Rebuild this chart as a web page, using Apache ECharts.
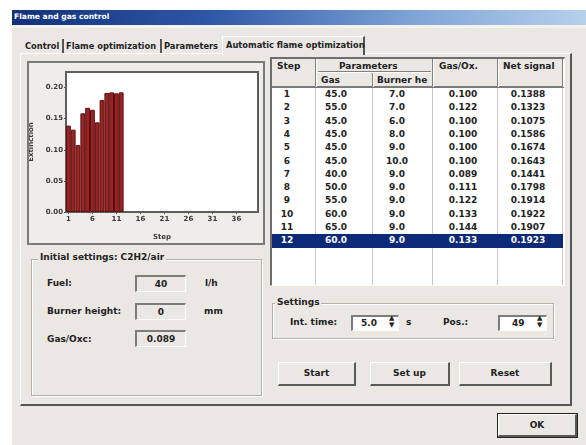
<!DOCTYPE html>
<html><head><meta charset="utf-8">
<script src="https://cdn.jsdelivr.net/npm/echarts@6/dist/echarts.min.js"></script>
<style>
body{margin:0;background:#fff;}
#root{position:relative;width:586px;height:445px;overflow:hidden;font-family:"DejaVu Sans",sans-serif;font-weight:bold;font-size:9px;color:#222;}
#root div{position:absolute;box-sizing:border-box;}
.lbl{white-space:nowrap;line-height:12px;}
.tab{font-size:8.3px;}
.sunk{border-top:2px solid #7c7c7c;border-left:2px solid #7c7c7c;border-bottom:1px solid #fdfdfd;border-right:1px solid #fdfdfd;}
.raised{border-top:1px solid #fff;border-left:1px solid #fff;border-bottom:2px solid #5a5a5a;border-right:2px solid #5a5a5a;text-align:center;}
.group{border:1px solid #b2aea8;box-shadow:inset 1px 1px 0 #fff,1px 1px 0 #fff;}
.cell{text-align:center;line-height:13px;height:13px;white-space:nowrap;overflow:hidden;}
</style></head><body>
<div id="root">
  <div id="dlg" style="left:12px;top:10px;width:574px;height:435px;background:#ebe8e4;"></div>
  <div style="left:12px;top:10px;width:574px;height:15px;background:linear-gradient(to right,#13317a 0%,#2f58a8 35%,#7fa4d6 70%,#b7d0ec 100%);"></div>
  <div class="lbl" style="left:14px;top:11px;color:#fff;font-size:7.6px;">Flame and gas control</div>
  <div style="left:12px;top:25px;width:574px;height:3px;background:#f4f2ec;"></div>

  <!-- tab strip -->
  <div style="left:20px;top:53px;width:552px;height:353px;border-top:1px solid #fff;border-left:1px solid #fff;border-right:2px solid #555;border-bottom:2px solid #555;"></div>
  <div class="lbl tab" style="left:25px;top:40px;">Control</div>
  <div style="left:62px;top:39px;width:2px;height:14px;background:#555;"></div>
  <div class="lbl tab" style="left:66px;top:40px;">Flame optimization</div>
  <div style="left:160px;top:39px;width:2px;height:14px;background:#555;"></div>
  <div class="lbl tab" style="left:164px;top:40px;">Parameters</div>
  <div style="left:222px;top:36px;width:143px;height:19px;background:#ebe8e4;border-top:1px solid #fff;border-left:1px solid #fff;border-right:2px solid #555;"></div>
  <div class="lbl tab" style="left:226px;top:39px;">Automatic flame optimization</div>

  <!-- chart box -->
  <div style="left:27px;top:61px;width:238px;height:184px;border:2px solid #7a7a7a;background:#efedea;"></div>
  <div id="chart" style="left:29px;top:63px;width:234px;height:180px;"></div>

  <!-- initial settings group -->
  <div class="group" style="left:31px;top:259px;width:231px;height:137px;"></div>
  <div class="lbl" style="left:38px;top:251px;background:#ebe8e4;padding:0 2px;">Initial settings: C2H2/air</div>
  <div class="lbl" style="left:47px;top:277px;">Fuel:</div>
  <div class="sunk" style="left:135px;top:275px;width:51px;height:17px;text-align:center;line-height:14px;">40</div>
  <div class="lbl" style="left:205px;top:277px;">l/h</div>
  <div class="lbl" style="left:47px;top:305px;">Burner height:</div>
  <div class="sunk" style="left:135px;top:303px;width:51px;height:17px;text-align:center;line-height:14px;">0</div>
  <div class="lbl" style="left:204px;top:305px;">mm</div>
  <div class="lbl" style="left:47px;top:333px;">Gas/Oxc:</div>
  <div class="sunk" style="left:135px;top:330px;width:51px;height:17px;text-align:center;line-height:14px;">0.089</div>

  <!-- table -->
  <div id="table" style="left:270px;top:57px;width:295px;height:229px;background:#fff;border-top:2px solid #6e6e6e;border-left:2px solid #6e6e6e;border-bottom:1px solid #fff;border-right:1px solid #fff;"></div>

  <!-- settings group -->
  <div class="group" style="left:272px;top:303px;width:282px;height:36px;"></div>
  <div class="lbl" style="left:275px;top:296px;background:#ebe8e4;padding:0 2px;">Settings</div>
  <div class="lbl" style="left:290px;top:316px;">Int. time:</div>
  <div class="sunk" style="left:351px;top:315px;width:48px;height:16px;background:#fff;line-height:13px;padding-left:8px;">5.0</div>
  <div class="lbl" style="left:389px;top:315px;font-size:7px;line-height:7px;">▲<br>▼</div>
  <div class="lbl" style="left:406px;top:316px;">s</div>
  <div class="lbl" style="left:443px;top:316px;">Pos.:</div>
  <div class="sunk" style="left:498px;top:315px;width:49px;height:16px;background:#fff;line-height:13px;padding-left:12px;">49</div>
  <div class="lbl" style="left:537px;top:315px;font-size:7px;line-height:7px;">▲<br>▼</div>

  <!-- buttons -->
  <div class="raised" style="left:278px;top:362px;width:78px;height:24px;line-height:21px;">Start</div>
  <div class="raised" style="left:370px;top:362px;width:80px;height:24px;line-height:21px;">Set up</div>
  <div class="raised" style="left:459px;top:362px;width:93px;height:24px;line-height:21px;">Reset</div>
  <div style="left:497px;top:413px;width:81px;height:25px;border:1px solid #222;"></div>
  <div class="raised" style="left:498px;top:414px;width:79px;height:23px;line-height:20px;">OK</div>
</div>
<script>
// ---- data ----
const steps = ['1','2','3','4','5','6','7','8','9','10','11','12'];
const gasFlow = ['45.0','55.0','45.0','45.0','45.0','45.0','40.0','50.0','55.0','60.0','65.0','60.0'];
const burnerHeight = ['7.0','7.0','6.0','8.0','9.0','10.0','9.0','9.0','9.0','9.0','9.0','9.0'];
const gasOxRatio = ['0.100','0.122','0.100','0.100','0.100','0.100','0.089','0.111','0.122','0.133','0.144','0.133'];
const netSignal = [0.1388,0.1323,0.1075,0.1586,0.1674,0.1643,0.1441,0.1798,0.1914,0.1922,0.1907,0.1923];
const stepAxis = ['1','2','3','4','5','6','7','8','9','10','11','12','13','14','15','16','17','18','19','20',
                  '21','22','23','24','25','26','27','28','29','30','31','32','33','34','35','36','37','38','39','40'];
const headerTop = ['Step','Parameters','Gas/Ox.','Net signal'];
const headerSub = ['Gas','Burner he'];
const selectedStep = '12';

// ---- table (listview) ----
const root = document.getElementById('root');
function add(style, text, cls){
  const d = document.createElement('div');
  if (cls) d.className = cls;
  d.style.cssText = style;
  if (text !== undefined) d.textContent = text;
  root.appendChild(d);
  return d;
}
add('left:272px;top:59px;width:292px;height:29px;background:#ebe8e4;border-bottom:2px solid #7a7a7a;');
[315,432,497,562].forEach(x=>add('left:'+x+'px;top:59px;width:2px;height:28px;border-left:1px solid #808080;border-right:1px solid #fff;'));
add('left:372px;top:73px;width:2px;height:14px;border-left:1px solid #808080;border-right:1px solid #fff;');
add('left:318px;top:71px;width:113px;height:1px;background:#808080;');
add('left:318px;top:72px;width:113px;height:1px;background:#fff;');
add('left:277px;top:60px;', headerTop[0], 'lbl');
add('left:339px;top:60px;', headerTop[1], 'lbl');
add('left:439px;top:60px;', headerTop[2], 'lbl');
add('left:503px;top:60px;', headerTop[3], 'lbl');
add('left:321px;top:74px;', headerSub[0], 'lbl');
add('left:377px;top:74px;', headerSub[1], 'lbl');
[315,372,432,497,562].forEach(x=>add('left:'+x+'px;top:88px;width:1px;height:197px;background:#c8c8c8;'));
const colCenters = [287,336,397,463,528];
const colW = 46;
for (let i=0;i<steps.length;i++){
  const top = 88 + i*13.3;
  const sel = steps[i]===selectedStep;
  if (sel) add('left:272px;top:'+(top-0.5)+'px;width:291px;height:14px;background:#0d2a78;');
  const vals = [steps[i], gasFlow[i], burnerHeight[i], gasOxRatio[i], netSignal[i].toFixed(4)];
  vals.forEach((v,j)=>{
    add('left:'+(colCenters[j]-colW/2)+'px;top:'+top+'px;width:'+colW+'px;'+(sel?'color:#fff;':''), v, 'cell');
  });
}

// ---- chart ----
const chart = echarts.init(document.getElementById('chart'), null, {renderer:'canvas'});
const axisFont = {fontSize:7, color:'#3a3a3a', fontWeight:'bold', fontFamily:'DejaVu Sans'};
chart.setOption({
  animation:false,
  grid:{left:37, top:9, right:5, bottom:31, containLabel:false, outerBoundsMode:'none',
        show:true, backgroundColor:'#ffffff', borderColor:'#5e5e5e', borderWidth:2},
  xAxis:{
    type:'category', data:stepAxis, boundaryGap:true,
    name:'Step', nameLocation:'middle', nameGap:22, nameTextStyle:axisFont,
    axisLine:{show:false},
    axisTick:{show:true, alignWithLabel:true, interval:4, length:2, lineStyle:{color:'#555'}},
    axisLabel:Object.assign({interval:4, margin:4}, axisFont)
  },
  yAxis:{
    type:'value', min:0, max:0.225, interval:0.05,
    name:'Extinction', nameLocation:'middle', nameRotate:90, nameGap:28, nameTextStyle:axisFont,
    axisLine:{show:false},
    axisTick:{show:true, length:2, lineStyle:{color:'#555'}},
    splitLine:{show:false},
    axisLabel:Object.assign({margin:3, showMaxLabel:false, formatter:v=>v.toFixed(2)}, axisFont)
  },
  series:[{
    type:'bar', data:netSignal, barCategoryGap:'0%', barGap:'0%',
    itemStyle:{color:'#9c2323', borderColor:'#581010', borderWidth:1}
  }]
});
</script>
</body></html>
